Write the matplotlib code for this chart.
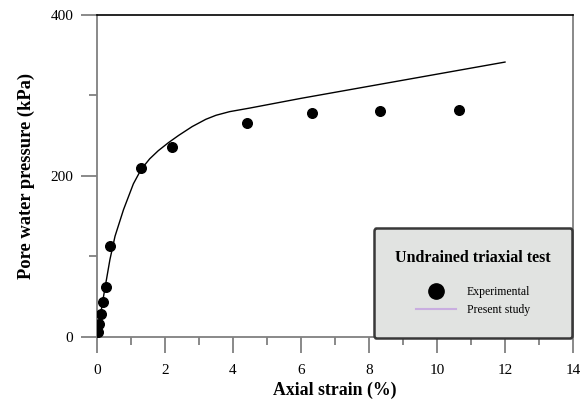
import matplotlib.pyplot as plt
from matplotlib.lines import Line2D

plt.rcParams['font.family'] = ['Liberation Serif', 'DejaVu Serif']

# experimental points
exp_strain = [0.02, 0.07, 0.12, 0.17, 0.26, 0.39, 1.29, 2.21, 4.41, 6.33, 8.33, 10.64]
exp_pwp = [6, 16, 28, 43, 62, 113, 210, 236, 266, 278, 280, 281]

# present study curve
sim_strain = [0, 0.05, 0.1, 0.15, 0.24, 0.38, 0.53, 0.78, 1.07, 1.3, 1.55, 1.8, 2.1,
              2.4, 2.8, 3.2, 3.5, 3.9, 4.5, 6.0, 8.0, 10.0, 12.0]
sim_pwp = [0, 12, 26, 40, 62, 96, 125, 158, 190, 208, 221, 231, 241,
           250, 261, 270, 275, 279.5, 284, 296, 311, 326, 341]

fig = plt.figure(figsize=(5.84, 3.99), dpi=100)
ax = fig.add_axes([97 / 584, 1 - 337 / 399, 476 / 584, 322.5 / 399])

ax.plot(sim_strain, sim_pwp, color='black', lw=1.0, zorder=3)
ax.scatter(exp_strain, exp_pwp, s=48, color='black', zorder=4)

ax.set_xlim(0, 14)
ax.set_ylim(0, 400)
ax.set_xticks(range(0, 15, 2))
ax.set_xticks(range(1, 15, 2), minor=True)
ax.set_yticks([0, 200, 400])
ax.set_yticks([100, 300], minor=True)

gray = '#808080'
for s in ['left', 'right', 'bottom']:
    ax.spines[s].set_color(gray)
    ax.spines[s].set_linewidth(1.3)
ax.spines['top'].set_color('black')
ax.spines['top'].set_linewidth(1.2)

ax.tick_params(which='major', length=11.5, width=1.3, color=gray, labelsize=11)
ax.tick_params(which='minor', length=5.8, width=1.3, color=gray)
ax.tick_params(axis='x', pad=8)
ax.tick_params(axis='y', pad=5.5)
ax.yaxis.get_major_ticks()[-1].tick1line.set_color('black')

ax.set_xlabel('Axial strain (%)', fontsize=12.8, fontweight='bold', labelpad=3)
ax.set_ylabel('Pore water pressure (kPa)', fontsize=13.3, fontweight='bold', labelpad=11.5)

handles = [
    Line2D([], [], marker='o', ls='none', color='black', markersize=11),
    Line2D([], [], color='#c9aee0', lw=1.5),
]
leg = ax.legend(handles, ['Experimental', 'Present study'],
                title='Undrained triaxial test',
                title_fontproperties={'weight': 'bold', 'size': 11.5},
                prop={'size': 8.5},
                loc='lower right', bbox_to_anchor=(572 / 584, 1 - 337.5 / 399),
                bbox_transform=fig.transFigure,
                frameon=True, fancybox=True, framealpha=1,
                facecolor='#e1e3e1', edgecolor='#383838',
                borderpad=1.8, labelspacing=0.55, handlelength=3.4,
                handletextpad=0.93, borderaxespad=0)
leg._legend_box.sep = 14.5
leg.get_frame().set_linewidth(1.8)
leg.set_zorder(10)

fig.savefig('out.png', dpi=100)
